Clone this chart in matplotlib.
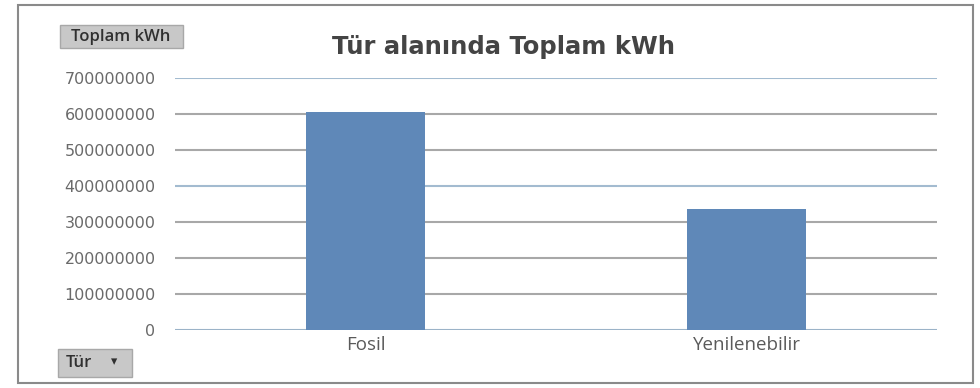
import matplotlib
matplotlib.use("Agg")
import matplotlib.pyplot as plt
from matplotlib.patches import Rectangle, FancyBboxPatch

# data
categories = ["Fosil", "Yenilenebilir"]
values = [605000000, 336000000]
yticks = [0, 100000000, 200000000, 300000000, 400000000, 500000000, 600000000, 700000000]

plt.rcParams['font.family'] = ['Open Sans', 'DejaVu Sans']

fig = plt.figure(figsize=(9.8, 3.88), dpi=100)
fig.patch.set_facecolor('white')

# outer frame
fig.add_artist(Rectangle((18 / 980, 5 / 388), 955 / 980, 378 / 388, transform=fig.transFigure,
                         fill=False, edgecolor='#8a8a8a', linewidth=1.5))

ax = fig.add_axes([175 / 980, (388 - 330) / 388, 762 / 980, 252 / 388])
ax.bar(range(len(categories)), values, width=0.31, color='#5f88b8', zorder=3)
ax.set_xlim(-0.5, len(categories) - 0.5)
ax.set_ylim(0, 700000000)
ax.set_yticks(yticks)
ax.set_yticklabels([str(v) for v in yticks], fontsize=11.5, color='#6a6a6a', family='DejaVu Sans')
ax.set_xticks(range(len(categories)))
ax.set_xticklabels(categories, fontsize=13.5, color='#5a5a5a')
ax.tick_params(axis='y', length=0, pad=14)
ax.tick_params(axis='x', length=0, pad=4)

grid_colors = ['#9bb3c8', '#a8a8a8', '#a8a8a8', '#a8a8a8', '#a3bbd0', '#a8a8a8', '#a8a8a8', '#a3bbd0']
for v, c in zip(yticks, grid_colors):
    ax.axhline(v, color=c, linewidth=1.5, zorder=1)

for s in ax.spines.values():
    s.set_visible(False)

fig.text(503 / 980, 1 - 47 / 388, "Tür alanında Toplam kWh", ha='center', va='center',
         fontsize=17.5, fontweight='bold', color='#444444', family='DejaVu Sans')

# field buttons
fig.add_artist(FancyBboxPatch((60 / 980, 1 - 48 / 388), 123 / 980, 23 / 388,
                              boxstyle='square,pad=0', transform=fig.transFigure,
                              facecolor='#c8c8c8', edgecolor='#a8a8a8'))
fig.text(121 / 980, 1 - 37 / 388, "Toplam kWh", ha='center', va='center', fontsize=12,
         fontweight='semibold', color='#303030')

fig.add_artist(FancyBboxPatch((58 / 980, 1 - 377 / 388), 74 / 980, 28 / 388,
                              boxstyle='square,pad=0', transform=fig.transFigure,
                              facecolor='#c8c8c8', edgecolor='#a8a8a8'))
fig.text(66 / 980, 1 - 363 / 388, "Tür", ha='left', va='center', fontsize=12,
         fontweight='semibold', color='#303030')
fig.text(114 / 980, 1 - 362 / 388, "▾", ha='center', va='center', fontsize=9, color='#303030')

plt.savefig('out.png', dpi=100)
plt.close()
